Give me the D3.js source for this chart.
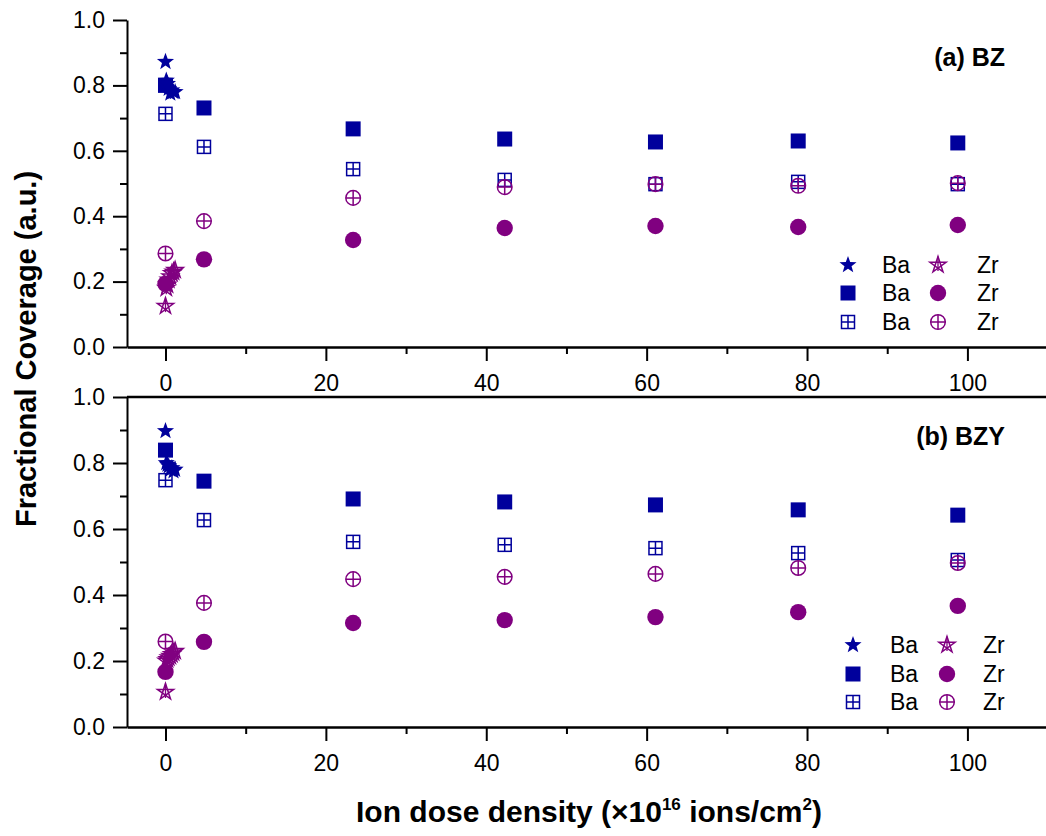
<!DOCTYPE html>
<html><head><meta charset="utf-8">
<script src="https://cdn.jsdelivr.net/npm/d3@7"></script>
<style>
body{margin:0;background:#fff}
text{font-family:Arial,"Liberation Sans",sans-serif;fill:#000}
</style>
</head><body><svg id="c" width="1046" height="836"></svg>
<script>
// ---------- data ----------
const doses = [0, 4.8, 23.4, 42.3, 61.1, 78.9, 98.8];
const starDoses = [0, 0.1, 0.25, 0.4, 0.6, 0.8, 1.0, 1.2];

// panel (a) BZ
const baStarA   = [0.872, 0.815, 0.805, 0.79, 0.775, 0.785, 0.78, 0.78];
const zrStarA   = [0.125, 0.18, 0.19, 0.205, 0.215, 0.225, 0.23, 0.235];
const baFilledA = [0.80, 0.731, 0.667, 0.636, 0.627, 0.630, 0.624];
const baCrossA  = [0.713, 0.612, 0.544, 0.511, 0.498, 0.505, 0.498];
const zrFilledA = [0.193, 0.268, 0.327, 0.364, 0.370, 0.367, 0.373];
const zrCrossA  = [0.286, 0.385, 0.456, 0.489, 0.498, 0.493, 0.501];

// panel (b) BZY
const baStarB   = [0.897, 0.80, 0.795, 0.79, 0.78, 0.785, 0.775, 0.78];
const zrStarB   = [0.106, 0.20, 0.205, 0.21, 0.215, 0.22, 0.225, 0.23];
const baFilledB = [0.839, 0.745, 0.691, 0.682, 0.673, 0.658, 0.642];
const baCrossB  = [0.748, 0.627, 0.561, 0.552, 0.542, 0.527, 0.506];
const zrFilledB = [0.167, 0.258, 0.315, 0.324, 0.333, 0.348, 0.367];
const zrCrossB  = [0.259, 0.376, 0.448, 0.455, 0.464, 0.482, 0.497];

const yTicks = [0, 0.2, 0.4, 0.6, 0.8, 1.0];
const yMinor = [0.1, 0.3, 0.5, 0.7, 0.9];
const xTicks = [0, 20, 40, 60, 80, 100];
const xMinor = [10, 30, 50, 70, 90];
const legendLabels = ["Ba", "Zr"];
const panelTitles = ["(a) BZ", "(b) BZY"];
const yTitle = "Fractional Coverage (a.u.)";

// ---------- style ----------
const BA = "#00009C", ZR = "#800080";
const svg = d3.select("#c");
const x = d3.scaleLinear().domain([-4.8, 109.8]).range([127, 1046]);

const panels = [
  {top: 20, bottom: 347, title: panelTitles[0], titleY: 66,
   legX: [848, 882, 938, 977], legY: [265, 293, 322],
   series: {baStar: baStarA, zrStar: zrStarA, baFilled: baFilledA, baCross: baCrossA, zrFilled: zrFilledA, zrCross: zrCrossA}},
  {top: 397, bottom: 727, title: panelTitles[1], titleY: 445,
   legX: [853, 890, 947, 983], legY: [645, 674, 702],
   series: {baStar: baStarB, zrStar: zrStarB, baFilled: baFilledB, baCross: baCrossB, zrFilled: zrFilledB, zrCross: zrCrossB}}
];

// symbol drawers
function starPts(r, ri) {
  const pts = [];
  for (let i = 0; i < 10; i++) {
    const a = -Math.PI / 2 + i * Math.PI / 5;
    const rr = i % 2 ? ri : r;
    pts.push([rr * Math.cos(a), rr * Math.sin(a)]);
  }
  return pts;
}
function drawSym(g, type, cx, cy) {
  const s = g.append("g").attr("transform", `translate(${cx},${cy})`);
  if (type === "baStar") {
    s.append("path").attr("d", "M" + starPts(9, 3.7).join("L") + "Z").attr("fill", BA);
  } else if (type === "zrStar") {
    const pts = [];
    for (let k = 0; k < 5; k++) {
      const a = -Math.PI / 2 + k * 4 * Math.PI / 5;
      pts.push([8.5 * Math.cos(a), 8.5 * Math.sin(a)]);
    }
    s.append("path").attr("d", "M" + pts.join("L") + "Z").attr("fill", "none")
      .attr("stroke", ZR).attr("stroke-width", 1.5).attr("stroke-linejoin", "miter");
    s.append("line").attr("x1", 0).attr("y1", -8.5).attr("x2", 0).attr("y2", 6).attr("stroke", ZR).attr("stroke-width", 1.3);
  } else if (type === "baFilled") {
    s.append("rect").attr("x", -7.5).attr("y", -7.5).attr("width", 15).attr("height", 15).attr("fill", BA);
  } else if (type === "baCross") {
    s.append("rect").attr("x", -6.5).attr("y", -6.5).attr("width", 13).attr("height", 13)
      .attr("fill", "none").attr("stroke", BA).attr("stroke-width", 1.5);
    s.append("path").attr("d", "M-6.5,0H6.5M0,-6.5V6.5").attr("stroke", BA).attr("stroke-width", 1.5);
  } else if (type === "zrFilled") {
    s.append("circle").attr("r", 8.2).attr("fill", ZR);
  } else if (type === "zrCross") {
    s.append("circle").attr("r", 7.3).attr("fill", "none").attr("stroke", ZR).attr("stroke-width", 1.5);
    s.append("path").attr("d", "M-7.3,0H7.3M0,-7.3V7.3").attr("stroke", ZR).attr("stroke-width", 1.5);
  }
}

panels.forEach(p => {
  const y = d3.scaleLinear().domain([0, 1]).range([p.bottom, p.top]);
  const g = svg.append("g");

  // left axis major
  const ya = g.append("g").attr("transform", "translate(127,0)")
    .call(d3.axisLeft(y).tickValues(yTicks).tickSize(14).tickSizeOuter(0).tickPadding(8).tickFormat(d3.format(".1f")));
  ya.select(".domain").attr("stroke-width", 2);
  ya.selectAll(".tick line").attr("stroke-width", 2);
  ya.selectAll("text").style("font-size", "23px").attr("font-family", null);
  const ym = g.append("g").attr("transform", "translate(127,0)")
    .call(d3.axisLeft(y).tickValues(yMinor).tickSize(7).tickFormat(""));
  ym.select(".domain").remove();
  ym.selectAll(".tick line").attr("stroke-width", 2);

  // bottom axis
  const xa = g.append("g").attr("transform", `translate(0,${p.bottom})`)
    .call(d3.axisBottom(x).tickValues(xTicks).tickSize(14).tickSizeOuter(0).tickPadding(14));
  xa.select(".domain").attr("stroke-width", 2.5);
  xa.selectAll(".tick line").attr("stroke-width", 2);
  xa.selectAll("text").style("font-size", "23px").attr("font-family", null);
  const xm = g.append("g").attr("transform", `translate(0,${p.bottom})`)
    .call(d3.axisBottom(x).tickValues(xMinor).tickSize(7).tickFormat(""));
  xm.select(".domain").remove();
  xm.selectAll(".tick line").attr("stroke-width", 2);

  // top border for lower panel
  if (p.top > 100) {
    g.append("line").attr("x1", x.range()[0]).attr("x2", x.range()[1])
      .attr("y1", y(1)).attr("y2", y(1)).attr("stroke", "#000").attr("stroke-width", 2.5);
  }

  // data
  const s = p.series;
  ["baFilled", "baCross", "zrFilled", "zrCross"].forEach(k => {
    s[k].forEach((v, i) => drawSym(g, k, x(doses[i]), y(v)));
  });
  ["baStar", "zrStar"].forEach(k => {
    s[k].forEach((v, i) => drawSym(g, k, x(starDoses[i]), y(v)));
  });

  // legend
  const rows = [["baStar", "zrStar"], ["baFilled", "zrFilled"], ["baCross", "zrCross"]];
  rows.forEach((r, ri) => {
    const ly = p.legY[ri];
    drawSym(g, r[0], p.legX[0], ly);
    g.append("text").attr("x", p.legX[1]).attr("y", ly).attr("dy", "0.36em").style("font-size", "23px").text(legendLabels[0]);
    drawSym(g, r[1], p.legX[2], ly);
    g.append("text").attr("x", p.legX[3]).attr("y", ly).attr("dy", "0.36em").style("font-size", "23px").text(legendLabels[1]);
  });

  // panel title
  g.append("text").attr("x", 1005).attr("y", p.titleY).attr("text-anchor", "end")
    .style("font-size", "25px").style("font-weight", "bold").text(p.title);
});

// axis titles
svg.append("text").attr("transform", "translate(36,349) rotate(-90)").attr("text-anchor", "middle")
  .style("font-size", "29px").style("font-weight", "bold").text(yTitle);

const xt = svg.append("text").attr("x", 589).attr("y", 822).attr("text-anchor", "middle")
  .style("font-size", "30px").style("font-weight", "bold");
xt.append("tspan").text("Ion dose density (\u00d710");
xt.append("tspan").attr("dy", -12).style("font-size", "17px").text("16");
xt.append("tspan").attr("dy", 12).text(" ions/cm");
xt.append("tspan").attr("dy", -12).style("font-size", "17px").text("2");
xt.append("tspan").attr("dy", 12).text(")");
</script></body></html>
